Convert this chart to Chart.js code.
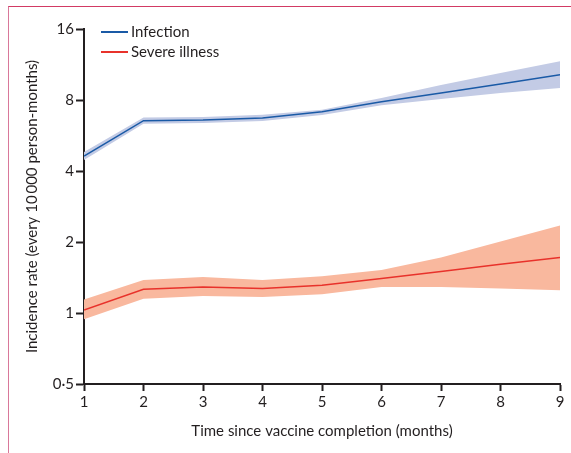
<!DOCTYPE html>
<html>
<head>
<meta charset="utf-8">
<script src="https://cdn.jsdelivr.net/npm/chart.js@4/dist/chart.umd.min.js"></script>
<style>
  html, body { margin: 0; padding: 0; background: #fff; }
  #wrap { position: relative; width: 571px; height: 453px; overflow: hidden; }
  #frame { position: absolute; left: 8px; top: 6px; width: 600px; height: 500px;
           border-top: 1px solid #d23a64; border-left: 1px solid #d9789a; box-sizing: border-box; }
  #chart { position: absolute; left: 0; top: 0; }
  .legend { position: absolute; left: 101px; font: 15px Lato, sans-serif; color: #231f20; }
  .legend div { position: relative; height: 20px; line-height: 20px; padding-left: 30px; white-space: nowrap; }
  .legend span { position: absolute; left: 0; top: 10px; width: 27px; height: 2px; }
</style>
</head>
<body>
<div id="wrap">
  <div id="frame"></div>
  <canvas id="chart" width="571" height="453"></canvas>
  <div class="legend" id="legend" style="top:21px"></div>
</div>
<script>
// Months since completing the vaccine course
const months = [1, 2, 3, 4, 5, 6, 7, 8, 9];

// Infection incidence per 10 000 person-months, with 95% CI
const infectionRate = [4.63, 6.54, 6.58, 6.71, 7.14, 7.87, 8.57, 9.35, 10.24];
const infectionLow  = [4.45, 6.35, 6.39, 6.52, 6.91, 7.60, 8.08, 8.57, 8.99];
const infectionHigh = [4.82, 6.74, 6.78, 6.93, 7.28, 8.15, 9.26, 10.41, 11.67];

// Severe illness incidence per 10 000 person-months, with 95% CI
const severeRate = [1.03, 1.26, 1.29, 1.27, 1.31, 1.40, 1.50, 1.61, 1.72];
const severeLow  = [0.94, 1.15, 1.18, 1.17, 1.20, 1.29, 1.29, 1.27, 1.25];
const severeHigh = [1.14, 1.38, 1.42, 1.38, 1.43, 1.52, 1.72, 2.01, 2.35];

// Log-scale tick positions and their printed labels
const yTickValues = [0.5, 1, 2, 4, 8, 16];
const yTickLabels = ['0·5', '1', '2', '4', '8', '16'];

const seriesNames = ['Infection', 'Severe illness'];
const lineColors = ['#1a5aa6', '#e8322b'];
const bandColors = ['#c3cbe5', '#f9b89e'];

const pts = arr => months.map((m, i) => ({ x: m, y: arr[i] }));

function band(high, low, color) {
  return [
    { data: pts(high), borderWidth: 0, pointRadius: 0, backgroundColor: color,
      fill: '+1', order: 2 },
    { data: pts(low), borderWidth: 0, pointRadius: 0, fill: false, order: 2 }
  ];
}

function line(vals, color) {
  return { data: pts(vals), borderColor: color, borderWidth: 1.5, pointRadius: 0,
           fill: false, order: 1 };
}

const ink = '#231f20';
const fontFamily = 'Lato, sans-serif';

new Chart(document.getElementById('chart'), {
  type: 'line',
  data: {
    datasets: [
      ...band(infectionHigh, infectionLow, bandColors[0]),
      line(infectionRate, lineColors[0]),
      ...band(severeHigh, severeLow, bandColors[1]),
      line(severeRate, lineColors[1])
    ]
  },
  options: {
    responsive: false,
    animation: false,
    layout: { padding: { left: 0, top: 29, right: 11, bottom: 0 } },
    plugins: { legend: { display: false }, tooltip: { enabled: false } },
    elements: { line: { tension: 0 } },
    scales: {
      x: {
        type: 'linear', min: 1, max: 9,
        ticks: { stepSize: 1, color: ink, padding: 2, font: { family: fontFamily, size: 15 } },
        grid: { drawOnChartArea: false, drawTicks: true, tickLength: 7, tickWidth: 2, tickColor: ink },
        border: { color: ink, width: 2 },
        title: { display: true, text: 'Time since vaccine completion (months)', color: ink,
                 font: { family: fontFamily, size: 15 }, padding: { top: 0, bottom: 13 } },
        afterFit: s => { s.height = 453 - 384; }
      },
      y: {
        type: 'logarithmic', min: 0.5, max: 16,
        afterBuildTicks: s => { s.ticks = yTickValues.map(v => ({ value: v })); },
        ticks: { color: ink, padding: 2, font: { family: fontFamily, size: 15 },
                 callback: v => { const i = yTickValues.indexOf(v); return i >= 0 ? yTickLabels[i] : ''; } },
        grid: { drawOnChartArea: false, drawTicks: true, tickLength: 8, tickWidth: 2, tickColor: ink },
        border: { color: ink, width: 2 },
        title: { display: true, text: 'Incidence rate (every 10\u2009000 person-months)', color: ink,
                 font: { family: fontFamily, size: 15 }, padding: { top: 23, bottom: 0 } },
        afterFit: s => { s.width = 84; }
      }
    }
  }
});

// Legend drawn from the series names and colours
const legend = document.getElementById('legend');
seriesNames.forEach((name, i) => {
  const row = document.createElement('div');
  const sw = document.createElement('span');
  sw.style.background = lineColors[i];
  row.appendChild(sw);
  row.appendChild(document.createTextNode(name));
  legend.appendChild(row);
});
</script>
</body>
</html>
